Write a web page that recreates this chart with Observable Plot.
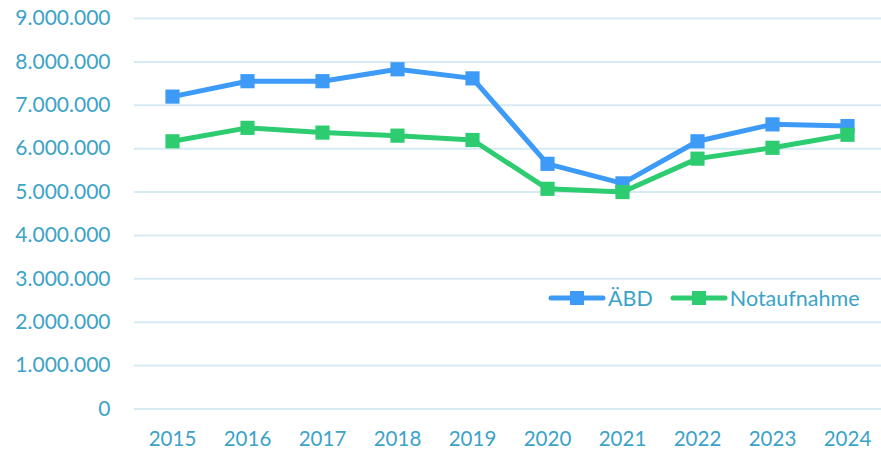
<!DOCTYPE html>
<html>
<head>
<meta charset="utf-8">
<script src="https://cdn.jsdelivr.net/npm/d3@7"></script>
<script src="https://cdn.jsdelivr.net/npm/@observablehq/plot@0.6"></script>
<style>
  html, body { margin: 0; padding: 0; background: #fff; }
  #wrap { position: relative; width: 881px; height: 450px; font-family: Lato, "Open Sans", sans-serif; }
  .legend { position: absolute; top: 286px; left: 547px; display: flex; align-items: center; height: 24px; font-size: 21.5px; color: #3ba3c7; }
  .legend .item { display: flex; align-items: center; }
  .legend svg { display: block; }
</style>
</head>
<body>
<div id="wrap"></div>
<script>
const years = [2015, 2016, 2017, 2018, 2019, 2020, 2021, 2022, 2023, 2024];
const abd = [7200000, 7555000, 7555000, 7830000, 7620000, 5650000, 5200000, 6170000, 6560000, 6520000];
const notaufnahme = [6170000, 6480000, 6370000, 6300000, 6200000, 5075000, 5000000, 5770000, 6020000, 6320000];
const yTicks = [0, 1000000, 2000000, 3000000, 4000000, 5000000, 6000000, 7000000, 8000000, 9000000];
const seriesNames = ["ÄBD", "Notaufnahme"];
const seriesColors = ["#3d9bf7", "#2ecc71"];
const textColor = "#3ba3c7";
const gridColor = "#d6eaf3";

const rowsA = years.map((y, i) => ({year: y, value: abd[i]}));
const rowsN = years.map((y, i) => ({year: y, value: notaufnahme[i]}));

const fmt = v => v === 0 ? "0" : d3.format(",")(v).replace(/,/g, ".");

const chart = Plot.plot({
  width: 881,
  height: 450,
  marginLeft: 134,
  marginRight: 0,
  marginTop: 18,
  marginBottom: 41.5,
  style: {fontFamily: "Lato, 'Open Sans', sans-serif", fontSize: "20px", color: textColor, background: "#fff"},
  x: {type: "point", domain: years, range: [170.7, 847.5], padding: 0},
  y: {domain: [0, 9000000]},
  marks: [
    Plot.ruleY(yTicks, {stroke: gridColor, strokeWidth: 2}),
    Plot.axisY({ticks: yTicks, tickSize: 0, tickPadding: 24, tickFormat: fmt, fill: textColor, fontSize: 21, label: null}),
    Plot.axisX({ticks: years, tickSize: 0, tickPadding: 22, tickFormat: d => String(d), fill: textColor, fontSize: 20.5, label: null}),
    Plot.line(rowsA, {x: "year", y: "value", stroke: seriesColors[0], strokeWidth: 5}),
    Plot.dot(rowsA, {x: "year", y: "value", symbol: "square", r: 8, fill: seriesColors[0]}),
    Plot.line(rowsN, {x: "year", y: "value", stroke: seriesColors[1], strokeWidth: 5}),
    Plot.dot(rowsN, {x: "year", y: "value", symbol: "square", r: 8, fill: seriesColors[1]})
  ]
});

const wrap = document.getElementById("wrap");
wrap.appendChild(chart);

const legend = document.createElement("div");
legend.className = "legend";
seriesNames.forEach((name, i) => {
  const item = document.createElement("div");
  item.className = "item";
  item.style.marginRight = i === 0 ? "16px" : "0";
  item.innerHTML = `<svg width="60" height="24"><line x1="4" y1="12" x2="56" y2="12" stroke="${seriesColors[i]}" stroke-width="5" stroke-linecap="round"/><rect x="23" y="5" width="14" height="14" fill="${seriesColors[i]}"/></svg><span style="margin-left:1px">${name}</span>`;
  legend.appendChild(item);
});
wrap.appendChild(legend);
</script>
</body>
</html>
